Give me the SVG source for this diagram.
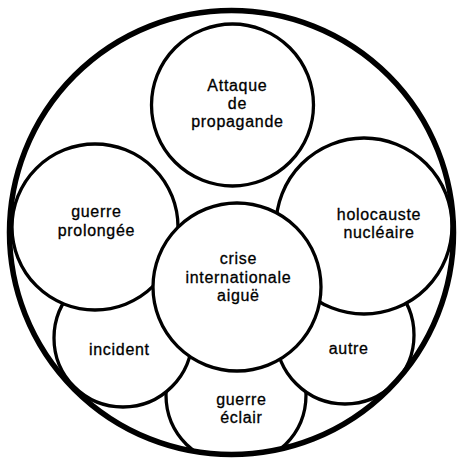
<svg xmlns="http://www.w3.org/2000/svg" width="461" height="458" viewBox="0 0 461 458">
<style>
.c{fill:#fff;stroke:#000;stroke-width:3.3}
.o{fill:none;stroke:#000;stroke-width:5.5}
text{font-family:"Liberation Sans",Arial,sans-serif;font-size:16px;letter-spacing:0.7px;text-anchor:middle;fill:#000;stroke:#000;stroke-width:0.3}
</style>
<defs>
<clipPath id="outerClip"><circle cx="231.5" cy="232.5" r="222"/></clipPath>
</defs>
<rect width="461" height="458" fill="#fff"/>
<g id="connectors"></g>
<g clip-path="url(#outerClip)">
<g id="eclair"><circle class="c" cx="236" cy="395" r="70"/><text x="241.4" y="405">guerre</text><text x="241.4" y="423.3">éclair</text></g>
<g id="incident"><circle class="c" cx="123" cy="338" r="69"/><text x="119.4" y="355">incident</text></g>
<g id="autre"><circle class="c" cx="345" cy="335" r="69"/><text x="348.7" y="354.3">autre</text></g>
<g id="prolongee"><circle class="c" cx="95" cy="227" r="83"/><text x="96.4" y="217.3">guerre</text><text x="96.4" y="236">prolongée</text></g>
<g id="holocauste"><circle class="c" cx="364" cy="226" r="88"/><text x="379" y="220">holocauste</text><text x="379" y="238.3">nucléaire</text></g>
<g id="propagande"><circle class="c" cx="232.5" cy="105" r="81"/><text x="237.4" y="90.7">Attaque</text><text x="237.4" y="108.7">de</text><text x="237.4" y="127.3">propagande</text></g>
<g id="crise"><circle class="c" cx="237" cy="287" r="84"/><text x="238.4" y="264">crise</text><text x="238.4" y="282.5">internationale</text><text x="238.4" y="301">aiguë</text></g>
</g>
<g id="outer"><circle class="o" cx="231.5" cy="232.5" r="222"/></g>
</svg>
